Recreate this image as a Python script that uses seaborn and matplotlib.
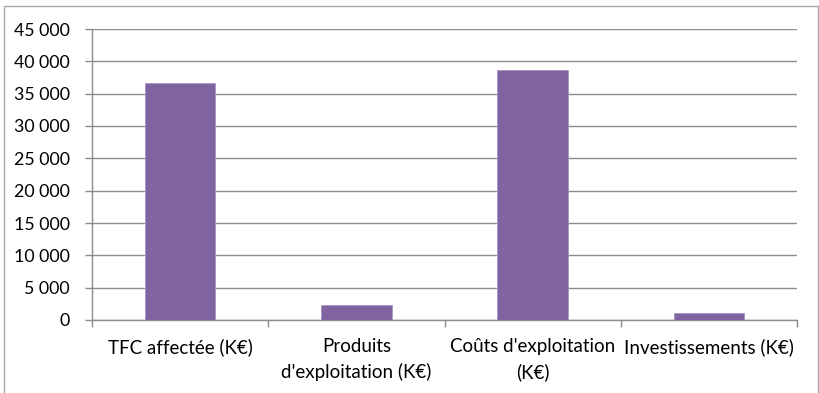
import matplotlib
matplotlib.use("Agg")
import matplotlib.pyplot as plt
from matplotlib.patches import Rectangle
from matplotlib.ticker import FuncFormatter, FixedLocator
import seaborn as sns
import pandas as pd

categories = [
    "TFC affectée (K€)",
    "Produits\nd'exploitation (K€)",
    "Coûts d'exploitation\n(K€)",
    "Investissements (K€)",
]
values = [36650, 2270, 38600, 1130]

bar_color = "#8064A2"
grid_color = "#8C8C8C"

sns.set_theme(style="white")
plt.rcParams["font.family"] = ["Lato", "DejaVu Sans"]

df = pd.DataFrame({"categorie": categories, "valeur": values})

fig = plt.figure(figsize=(8.19, 3.93), dpi=100)
ax = fig.add_axes([92 / 819, 1 - 320 / 393, (797 - 92) / 819, (320 - 29) / 393])

sns.barplot(data=df, x="categorie", y="valeur", color=bar_color, width=0.4,
            saturation=1, edgecolor="#A996C4", linewidth=0.6, ax=ax, zorder=3)

ax.set_ylim(0, 45000)
ax.set_xlim(-0.5, len(categories) - 0.5)
ax.set_yticks(range(0, 45001, 5000))
ax.yaxis.set_major_formatter(FuncFormatter(lambda v, p: f"{int(v):,}".replace(",", " ")))
ax.yaxis.grid(True, color=grid_color, linewidth=1.0, zorder=0)
ax.set_axisbelow(True)

# category labels centred, tick marks on category boundaries
ax.set_xticks(range(len(categories)))
ax.set_xticklabels(categories, fontsize=13.5, color="#000000", linespacing=1.55)
ax.xaxis.set_minor_locator(FixedLocator([i - 0.5 for i in range(len(categories) + 1)]))
ax.tick_params(axis="x", which="major", length=0, pad=13)
ax.tick_params(axis="x", which="minor", length=5, width=1, color=grid_color, direction="out", bottom=True)
ax.tick_params(axis="y", length=5, width=1, color=grid_color, direction="out", left=True,
               labelsize=12.8, labelcolor="#000000", pad=11)

for side in ("top", "right"):
    ax.spines[side].set_visible(False)
for side in ("left", "bottom"):
    ax.spines[side].set_color(grid_color)
    ax.spines[side].set_linewidth(1.0)

ax.set_xlabel("")
ax.set_ylabel("")

# chart area frame
fig.patches.append(Rectangle((4 / 819, -0.1), (818 - 4) / 819, 1.1 - 6 / 393,
                             transform=fig.transFigure, fill=False,
                             edgecolor="#A6A6A6", linewidth=1.0))

fig.savefig("out.png", dpi=100)
